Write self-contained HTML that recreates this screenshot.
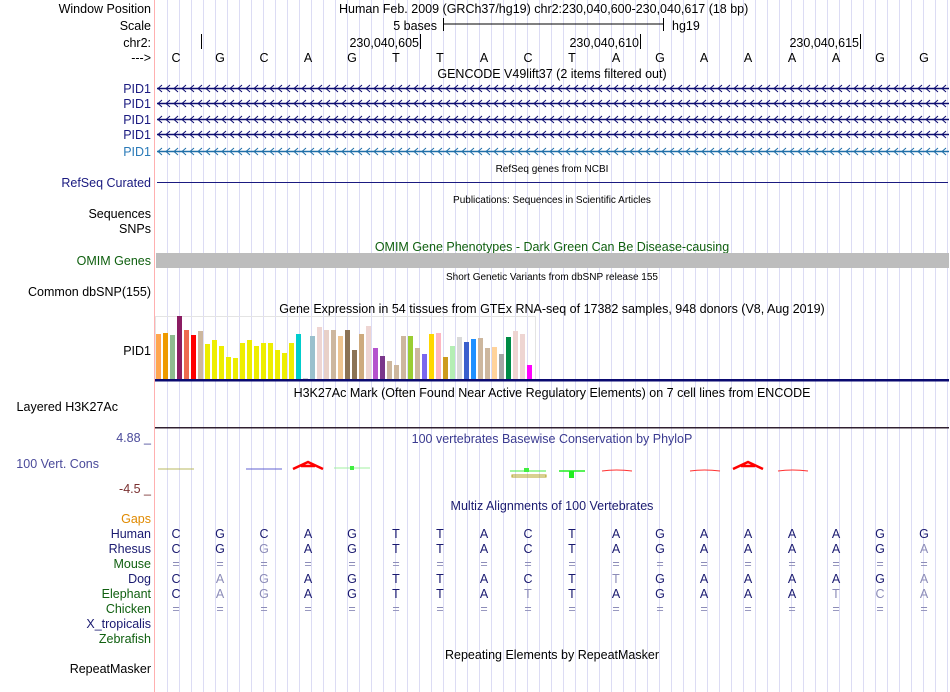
<!DOCTYPE html>
<html><head><meta charset="utf-8"><style>
html,body{margin:0;padding:0;background:#fff;}
#root{position:relative;width:950px;height:692px;overflow:hidden;font-family:"Liberation Sans",sans-serif;}
svg{position:absolute;left:0;top:0;}
text{font-family:"Liberation Sans",sans-serif;}
</style></head><body>
<div id="root">
<svg id="svg" width="950" height="692" viewBox="0 0 950 692">
<g id="grid"></g>
<line x1="154.5" y1="0" x2="154.5" y2="692" stroke="#ffb0b0" stroke-width="1"/>
<g id="labels" font-size="12.5" text-anchor="end">
<text x="151" y="13" fill="#000">Window Position</text>
<text x="151" y="30" fill="#000">Scale</text>
<text x="151" y="47" fill="#000">chr2:</text>
<text x="151" y="62" fill="#000">---&gt;</text>
<text x="151" y="93" fill="#1a1a80">PID1</text>
<text x="151" y="108" fill="#1a1a80">PID1</text>
<text x="151" y="124" fill="#1a1a80">PID1</text>
<text x="151" y="139" fill="#1a1a80">PID1</text>
<text x="151" y="156" fill="#2a7ab8">PID1</text>
<text x="151" y="187" fill="#1a1a80">RefSeq Curated</text>
<text x="151" y="218" fill="#000">Sequences</text>
<text x="151" y="233" fill="#000">SNPs</text>
<text x="151" y="265" fill="#106010">OMIM Genes</text>
<text x="151" y="296" fill="#000">Common dbSNP(155)</text>
<text x="151" y="355" fill="#000">PID1</text>
<text x="118" y="411" fill="#000">Layered H3K27Ac</text>
<text x="151" y="442" fill="#4a4a9a">4.88 _</text>
<text x="99" y="468" fill="#4a4a9a">100 Vert. Cons</text>
<text x="151" y="493" fill="#7a3030">-4.5 _</text>
<text x="151" y="523" fill="#e08a00">Gaps</text>
<text x="151" y="538" fill="#1a1a70">Human</text>
<text x="151" y="553" fill="#1a1a70">Rhesus</text>
<text x="151" y="568" fill="#106010">Mouse</text>
<text x="151" y="583" fill="#1a1a70">Dog</text>
<text x="151" y="598" fill="#106010">Elephant</text>
<text x="151" y="613" fill="#106010">Chicken</text>
<text x="151" y="628" fill="#1a1a70">X_tropicalis</text>
<text x="151" y="643" fill="#106010">Zebrafish</text>
<text x="151" y="673" fill="#000">RepeatMasker</text>
</g>
<g font-size="12.5" fill="#000">
<text x="339" y="13">Human Feb. 2009 (GRCh37/hg19)   chr2:230,040,600-230,040,617 (18 bp)</text>
<text x="437" y="30" text-anchor="end">5 bases</text>
<line x1="443" y1="24" x2="663" y2="24" stroke="#000"/>
<line x1="443.5" y1="18" x2="443.5" y2="31" stroke="#000"/>
<line x1="663.5" y1="18" x2="663.5" y2="31" stroke="#000"/>
<text x="672" y="30">hg19</text>
<line x1="201.5" y1="34" x2="201.5" y2="49" stroke="#000"/>
<text x="419" y="47" text-anchor="end">230,040,605</text><line x1="420.5" y1="34" x2="420.5" y2="49" stroke="#000"/>
<text x="639" y="47" text-anchor="end">230,040,610</text><line x1="640.5" y1="34" x2="640.5" y2="49" stroke="#000"/>
<text x="859" y="47" text-anchor="end">230,040,615</text><line x1="860.5" y1="34" x2="860.5" y2="49" stroke="#000"/>
</g>
<g id="seq" font-size="12.5" text-anchor="middle"></g>
<g font-size="12.5" text-anchor="middle">
<text x="552" y="78" fill="#000">GENCODE V49lift37 (2 items filtered out)</text>
<text x="552" y="172" font-size="10" fill="#000">RefSeq genes from NCBI</text>
<text x="552" y="203" font-size="10" fill="#000">Publications: Sequences in Scientific Articles</text>
<text x="552" y="251" fill="#106010">OMIM Gene Phenotypes - Dark Green Can Be Disease-causing</text>
<text x="552" y="280" font-size="10" fill="#000">Short Genetic Variants from dbSNP release 155</text>
<text x="552" y="313" fill="#000">Gene Expression in 54 tissues from GTEx RNA-seq of 17382 samples, 948 donors (V8, Aug 2019)</text>
<text x="552" y="397" fill="#000">H3K27Ac Mark (Often Found Near Active Regulatory Elements) on 7 cell lines from ENCODE</text>
<text x="552" y="443" fill="#3a3a90">100 vertebrates Basewise Conservation by PhyloP</text>
<text x="552" y="510" fill="#1a1a70">Multiz Alignments of 100 Vertebrates</text>
<text x="552" y="659" fill="#000">Repeating Elements by RepeatMasker</text>
</g>
<g id="genes"></g>
<line x1="157" y1="182.5" x2="948" y2="182.5" stroke="#1a1a80"/>
<rect x="156" y="253" width="793" height="15" fill="#bdbdbd"/>
<rect x="155.5" y="316.5" width="380" height="63" fill="none" stroke="#e4e4e4"/>
<g id="gtex"></g>
<rect x="155" y="379" width="794" height="2.5" fill="#0a0a70"/>
<rect x="155" y="427" width="794" height="1.5" fill="#302030"/>
<g id="cons"></g>
<g id="maf" font-size="12.5" text-anchor="middle"></g>
</svg>
</div>
<script>
var bases=["C","G","C","A","G","T","T","A","C","T","A","G","A","A","A","A","G","G"];
var gtexValues=[45,46,44,63,49,44,48,35,39,33,22,21,36,39,33,36,36,29,26,36,45,1,43,52,49,49,43,49,29,45,53,31,23,18,14,43,43,31,25,45,46,22,33,42,37,40,41,31,32,25,42,48,45,14];
var gtexColors=["#FFA54F","#EE9A00","#8FBC8F","#8B1C62","#EE6A50","#FF0000","#CDB79E","#EEEE00","#EEEE00","#EEEE00","#EEEE00","#EEEE00","#EEEE00","#EEEE00","#EEEE00","#EEEE00","#EEEE00","#EEEE00","#EEEE00","#EEEE00","#00CDCD","#d0d0d0","#9AC0CD","#EED5D2","#E8D0C8","#CDB79E","#EEC591","#8B7355","#8B7355","#CDAA7D","#EED5D2","#B452CD","#7A378B","#CDB79E","#CDB79E","#CDB79E","#9ACD32","#CDB79E","#7B68EE","#FFD700","#FFB6C1","#CD9B1D","#B4EEB4","#D9D9D9","#3A5FCD","#1E90FF","#CDB79E","#CDB79E","#FFD39B","#A6A6A6","#008B45","#EED5D2","#EED5D2","#FF00FF"];
var species=["Human","Rhesus","Mouse","Dog","Elephant","Chicken"];
var mafRows=[
"CGCAGTTACTAGAAAAGG",
"CGgAGTTACTAGAAAAGa",
"==================",
"CagAGTTACTtGAAAAGa",
"CagAGTTAtTAGAAAtca",
"=================="];
var phyloType=["line","","line","A","bar","","","","bar2","barT","arc","","arc","A","arc","","",""];
var phyloColor=["#b8b860","","#6060d0","#ff0000","#40ee40","","","","#40ee40","#20ee20","#ff3030","","#ff3030","#ff0000","#ff3030","","",""];

var NS="http://www.w3.org/2000/svg";
function mk(tag,attrs,parent){var e=document.createElementNS(NS,tag);for(var k in attrs)e.setAttribute(k,attrs[k]);parent.appendChild(e);return e;}
var x0=154,bw=44;
function bx(i){return x0+i*bw+bw/2;}
var grid=document.getElementById('grid');
for(var gx=167.5;gx<949;gx+=12){var l=mk('line',{x1:gx,y1:0,x2:gx,y2:692,stroke:'#dcdcf4','stroke-width':1},grid);}
var seq=document.getElementById('seq');
bases.forEach(function(b,i){var t=mk('text',{x:bx(i),y:62,fill:'#000'},seq);t.textContent=b;});
var genes=document.getElementById('genes');
var gy=[88,103,119,134,151];
gy.forEach(function(y,r){var col=r==4?'#1f6fa8':'#0c0c70';
var g=mk('g',{},genes);
mk('line',{x1:157,y1:y+0.5,x2:949,y2:y+0.5,stroke:col,'stroke-width':1.5},g);
var d='';for(var ax=158;ax<949;ax+=8){d+='M'+(ax+4)+' '+(y-3)+'L'+ax+' '+(y+0.5)+'L'+(ax+4)+' '+(y+4);}
mk('path',{d:d,stroke:col,fill:'none','stroke-width':1},g);});
var gtex=document.getElementById('gtex');
var base=379,scale=1;
gtexValues.forEach(function(v,i){var r=mk('rect',{x:156+i*7,y:base-v*scale,width:5,height:v*scale,fill:gtexColors[i]},gtex);});
var cons=document.getElementById('cons');
phyloType.forEach(function(t,i){if(!t)return;var c=phyloColor[i];var cx=bx(i),l=cx-18,r=cx+18;var g=mk('g',{},cons);
if(t=='line'){mk('line',{x1:l,y1:469,x2:r,y2:469,stroke:c,'stroke-width':1},g);}
else if(t=='A'){mk('path',{d:'M'+(cx-15)+' 469L'+cx+' 462L'+(cx+15)+' 469M'+(cx-7)+' 466L'+(cx+7)+' 466',stroke:c,fill:'none','stroke-width':2.5},g);}
else if(t=='bar'){mk('line',{x1:l,y1:468,x2:r,y2:468,stroke:'#a0f0a0','stroke-width':1},g);mk('rect',{x:cx-2,y:466,width:4,height:4,fill:c},g);}
else if(t=='bar2'){mk('line',{x1:l,y1:471,x2:r,y2:471,stroke:c,'stroke-width':1},g);mk('rect',{x:cx-4,y:468,width:5,height:4,fill:c},g);mk('path',{d:'M'+(l+2)+' 475L'+(r)+' 475L'+(r)+' 477L'+(l+2)+' 477Z',stroke:'#b0a020',fill:'none','stroke-width':1},g);}
else if(t=='barT'){mk('line',{x1:l+5,y1:471,x2:r-5,y2:471,stroke:c,'stroke-width':1.5},g);mk('rect',{x:cx-3,y:471,width:5,height:7,fill:c},g);}
else if(t=='arc'){mk('path',{d:'M'+(l+4)+' 471Q'+cx+' 469 '+(r-2)+' 471',stroke:c,fill:'none','stroke-width':1},g);}
});
var maf=document.getElementById('maf');
var rowY=[538,553,568,583,598,613];
mafRows.forEach(function(row,r){for(var i=0;i<row.length;i++){var ch=row[i];var low=(ch!=ch.toUpperCase());var isEq=ch=='=';
var t=mk('text',{x:bx(i),y:rowY[r],fill:(low||isEq)?'#8c8cb8':'#1a1a70'},maf);t.textContent=ch.toUpperCase();
}});
</script>
</body></html>
